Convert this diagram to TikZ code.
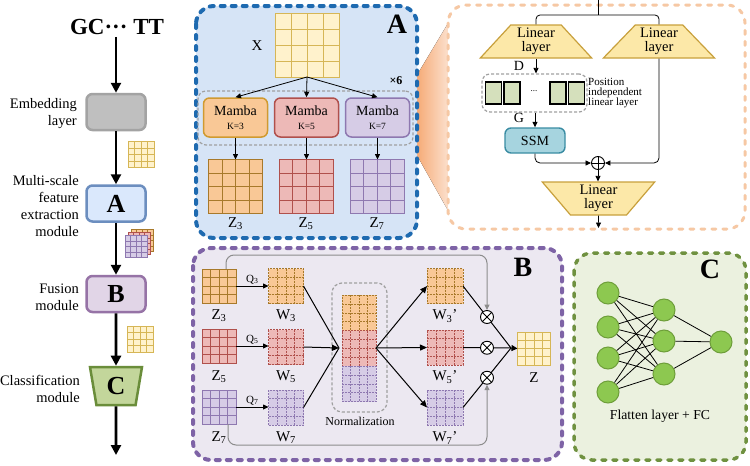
\documentclass[tikz,border=0pt]{standalone}
\usepackage{fontspec}
\setmainfont{Liberation Serif}
\usetikzlibrary{arrows.meta,shapes.geometric,calc}
\definecolor{ylwF}{HTML}{FFF2CC}\definecolor{ylwD}{HTML}{D6B656}
\definecolor{orgF}{HTML}{F9C896}\definecolor{orgD}{HTML}{A8792A}\definecolor{orgM}{HTML}{D09A30}
\definecolor{redF}{HTML}{EDB9B7}\definecolor{redD}{HTML}{B0504C}
\definecolor{purF}{HTML}{D6CCE6}\definecolor{purD}{HTML}{8E78B0}
\definecolor{panA}{HTML}{D6E4F6}\definecolor{panAD}{HTML}{1E6AB0}
\definecolor{panB}{HTML}{ECE8F1}\definecolor{panBD}{HTML}{7E63A6}
\definecolor{panC}{HTML}{EBF1DF}\definecolor{panCD}{HTML}{6F9140}
\definecolor{panR}{HTML}{F6C8A4}
\definecolor{fanL}{HTML}{F5A66F}\definecolor{fanR}{HTML}{FCE3D2}
\definecolor{embF}{HTML}{BFBFBF}\definecolor{embD}{HTML}{A3A3A3}
\definecolor{boxAF}{HTML}{DAE8FC}\definecolor{boxAD}{HTML}{6C8EBF}
\definecolor{boxBF}{HTML}{E1D5E7}\definecolor{boxBD}{HTML}{9673A6}
\definecolor{boxCF}{HTML}{C3D69B}\definecolor{boxCD}{HTML}{6A8D3A}
\definecolor{linF}{HTML}{FCE8A8}\definecolor{linD}{HTML}{C8A03C}
\definecolor{ssmF}{HTML}{A6D4DF}\definecolor{ssmD}{HTML}{3A8CA3}
\definecolor{pilF}{HTML}{D5E0BC}
\definecolor{nnF}{HTML}{8DC850}\definecolor{nnD}{HTML}{6E9E3A}
\definecolor{grayD}{HTML}{A0A0A0}
\definecolor{bypass}{HTML}{8C8C8C}
\newcommand{\mkgrid}[7]{%
 \node[draw=#6, fill=#5, line width=1pt, minimum width=#3, minimum height=#4, inner sep=0pt, outer sep=0pt, #7] (#1) at (#2) {};
 \foreach \gi in {1,2,3}{%
 \draw[draw=#6, line width=0.8pt, #7] ($(#1.north west)!\gi/4!(#1.north east)$) -- ($(#1.south west)!\gi/4!(#1.south east)$);
 \draw[draw=#6, line width=0.8pt, #7] ($(#1.north west)!\gi/4!(#1.south west)$) -- ($(#1.north east)!\gi/4!(#1.south east)$);
 }}
\tikzset{
 bigarrow/.style={line width=2.8pt, -{Triangle[width=10pt,length=10pt]}},
 thinarrow/.style={line width=0.8pt, -{Triangle[width=5pt,length=5.5pt]}},
 lbl/.style={font=\fontsize{14.5}{17}\selectfont, align=right, anchor=east, inner sep=0pt},
 modbox/.style={rounded corners=6pt, line width=2.5pt, minimum width=59pt, minimum height=36pt, inner sep=0pt, font=\fontsize{26}{26}\selectfont\bfseries},
 panel/.style={rounded corners=18pt, line width=4pt, dash pattern=on 4pt off 7pt, line cap=round},
 grpbox/.style={draw=grayD, line width=1.2pt, dash pattern=on 3pt off 2pt, rounded corners=8pt, inner sep=0pt},
 mamba/.style={rounded corners=6pt, line width=1.5pt, minimum width=64pt, minimum height=39pt, inner sep=0pt, align=center, font=\fontsize{14}{15}\selectfont},
 linlayer/.style={trapezium, trapezium stretches=true, minimum width=112pt, minimum height=33pt, fill=linF, draw=linD, line width=1.2pt, inner sep=0pt, align=center, font=\fontsize{14.5}{14.5}\selectfont},
 wl/.style={font=\fontsize{15}{15}\selectfont, inner sep=1pt},
 ql/.style={font=\fontsize{11}{11}\selectfont, inner sep=1.5pt, above},
 plet/.style={font=\fontsize{28}{28}\selectfont\bfseries},
 nn/.style={circle, fill=nnF, draw=nnD, line width=1pt, minimum size=22pt, inner sep=0pt},
 cross/.style={circle, draw=black, fill=white, line width=0.9pt, minimum size=13pt, inner sep=0pt},
 wdash/.style={dash pattern=on 2pt off 1pt},
 bline/.style={line width=1pt},
 byp/.style={draw=bypass, line width=1pt, -{Triangle[width=5pt,length=5.5pt]}, rounded corners=8pt},
 pil/.style={draw=black, fill=pilF, line width=1.2pt, minimum width=16pt, minimum height=22pt, inner sep=0pt},
}
\begin{document}
\begin{tikzpicture}[x=1pt,y=-1pt]
\useasboundingbox (0,0) rectangle (750,466);
\fill[white] (0,0) rectangle (750,466);

% ---------- left column ----------
\node[font=\fontsize{23}{23}\selectfont\bfseries, inner sep=2pt] (gc) at (117,27) {GC··· TT};
\node[modbox, fill=embF, draw=embD] (emb) at (116,112) {};
\node[modbox, fill=boxAF, draw=boxAD] (ba) at (116,203.5) {A};
\node[modbox, fill=boxBF, draw=boxBD] (bb) at (116,294) {B};
\node[trapezium, trapezium left angle=100, trapezium right angle=100, trapezium stretches=true,
 minimum width=52pt, minimum height=38pt, fill=boxCF, draw=boxCD, line width=2.5pt, inner sep=0pt,
 font=\fontsize{26}{26}\selectfont\bfseries] (bc) at (116,386) {C};
\coordinate (fin) at (116,455);
\draw[bigarrow] (emb.north |- gc.south) -- (emb.north);
\draw[bigarrow] (emb.south) -- (ba.north);
\draw[bigarrow] (ba.south) -- (bb.north);
\draw[bigarrow] (bb.south) -- (bc.north);
\draw[bigarrow] (bc.south) -- (fin);
\node[lbl] (l1) at (77,114) {Embedding\\layer};
\node[lbl] (l2) at (79,206) {Multi-scale\\feature\\extraction\\module};
\node[lbl] (l3) at (79,297) {Fusion\\module};
\node[lbl] (l4) at (80,389) {Classification\\module};
\mkgrid{ic1}{141,154.5}{26pt}{26pt}{ylwF}{ylwD}{}
\mkgrid{ic2a}{142,240.5}{22pt}{22pt}{orgF}{orgD}{}
\mkgrid{ic2b}{139,243.5}{22pt}{22pt}{redF}{redD}{}
\mkgrid{ic2c}{136,246.5}{22pt}{22pt}{purF}{purD}{}
\mkgrid{ic3}{140,339}{26pt}{26pt}{ylwF}{ylwD}{}

% ---------- fan + panels ----------
\fill[left color=fanL, right color=fanR] (414,80) -- (450,20) -- (450,214) -- (414,150) -- cycle;
\draw[panel, draw=panAD, fill=panA] (196,6) rectangle (417,238);
\draw[panel, draw=panR, fill=white, line width=3pt] (448,5) rectangle (745,229);
\draw[panel, draw=panBD, fill=panB] (193,248) rectangle (562,460);
\draw[panel, draw=panCD, fill=panC, line width=3.5pt] (574,253) rectangle (746,460);

% ---------- panel A ----------
\node[plet] (pa) at (397,24) {A};
\mkgrid{X}{307,45}{64pt}{64pt}{ylwF}{ylwD}{}
\node[wl] (xl) at (257,46) {X};
\node[grpbox, minimum width=215pt, minimum height=54pt] (grp) at (305.5,118) {};
\node[font=\fontsize{12}{12}\selectfont\bfseries] (x6) at (396,81) {×6};
\node[mamba, fill=orgF, draw=orgM] (m3) at (235.5,117.5) {Mamba\\[-1pt]{\fontsize{9.5}{10}\selectfont K=3}};
\node[mamba, fill=redF, draw=redD] (m5) at (306.5,117.5) {Mamba\\[-1pt]{\fontsize{9.5}{10}\selectfont K=5}};
\node[mamba, fill=purF, draw=purD] (m7) at (377.5,117.5) {Mamba\\[-1pt]{\fontsize{9.5}{10}\selectfont K=7}};
\draw[thinarrow] (X.south) -- (m3.north);
\draw[thinarrow] (X.south) -- (m5.north);
\draw[thinarrow] (X.south) -- (m7.north);
\mkgrid{Z3a}{235.5,186.5}{54pt}{54pt}{orgF}{orgD}{}
\mkgrid{Z5a}{306,186.5}{54pt}{54pt}{redF}{redD}{}
\mkgrid{Z7a}{377,186.5}{54pt}{54pt}{purF}{purD}{}
\draw[thinarrow] (m3.south) -- (Z3a.north);
\draw[thinarrow] (m5.south) -- (m5.south |- Z5a.north);
\draw[thinarrow] (m7.south) -- (m7.south |- Z7a.north);
\node[wl] (za3) at (235.5,224) {Z\textsubscript{3}};
\node[wl] (za5) at (306,224) {Z\textsubscript{5}};
\node[wl] (za7) at (377,224) {Z\textsubscript{7}};

% ---------- right panel (Mamba block) ----------
\node[linlayer, trapezium left angle=50, trapezium right angle=50] (lin1) at (536,41.5) {Linear\\layer};
\node[linlayer, trapezium left angle=47, trapezium right angle=47] (lin2) at (659,41.5) {Linear\\layer};
\node[linlayer, minimum width=113pt, trapezium left angle=125, trapezium right angle=125] (lin3) at (598.5,198.5) {Linear\\layer};
\coordinate (topin) at (598,0);
\coordinate (mid15) at (598,15);
\draw[line width=0.8pt] (topin) -- (mid15);
\draw[line width=0.8pt, rounded corners=4pt] (lin1.north) |- (mid15) -| (lin2.north);
\node[grpbox, minimum width=105pt, minimum height=38pt] (plr) at (534.5,93) {};
\node[pil] (g1) at (493.5,93) {};
\node[pil] (g2) at (512,93) {};
\node[font=\fontsize{9}{9}\selectfont] (gd) at (534,91) {...};
\node[pil] (g3) at (558,93) {};
\node[pil] (g4) at (576.5,93) {};
\node[anchor=west, align=left, inner sep=0pt, font=\fontsize{11}{10}\selectfont] (pilt) at (588,93) {Position\\independent\\linear layer};
\node[font=\fontsize{14}{14}\selectfont] (dl) at (519,66) {D};
\node[font=\fontsize{14}{14}\selectfont] (gl) at (519,118) {G};
\node[rounded corners=6pt, fill=ssmF, draw=ssmD, line width=1.4pt, minimum width=60pt, minimum height=25pt, inner sep=0pt, font=\fontsize{14}{14}\selectfont] (ssm) at (535,140.5) {SSM};
\draw[thinarrow] (lin1.south) -- (lin1.south |- plr.north);
\draw[thinarrow] (plr.south -| ssm.north) -- (ssm.north);
\node[cross] (op) at (598,163) {};
\draw[line width=0.8pt] (op.north) -- (op.south) (op.west) -- (op.east);
\draw[thinarrow, rounded corners=5pt] (ssm.south) |- (op.west);
\draw[thinarrow, rounded corners=5pt] (lin2.south) |- (op.east);
\draw[thinarrow] (op.south) -- (op.south |- lin3.north);
\coordinate (rout) at (598.5,228);
\draw[thinarrow] (lin3.south) -- (rout);

% ---------- panel B ----------
\node[plet] (pb) at (523,267) {B};
\mkgrid{Z3}{219,286}{34pt}{34pt}{orgF}{orgD}{}
\mkgrid{Z5}{219,346}{34pt}{34pt}{redF}{redD}{}
\mkgrid{Z7}{219,407}{34pt}{34pt}{purF}{purD}{}
\node[wl] (lz3) at (219,316) {Z\textsubscript{3}};
\node[wl] (lz5) at (219,377) {Z\textsubscript{5}};
\node[wl] (lz7) at (219,438) {Z\textsubscript{7}};
\mkgrid{W3}{286,286}{35pt}{35pt}{orgF}{orgD}{wdash}
\mkgrid{W5}{286,347}{35pt}{35pt}{redF}{redD}{wdash}
\mkgrid{W7}{286,407.5}{35pt}{35pt}{purF}{purD}{wdash}
\node[wl] (lw3) at (286,316) {W\textsubscript{3}};
\node[wl] (lw5) at (286,377) {W\textsubscript{5}};
\node[wl] (lw7) at (286,438) {W\textsubscript{7}};
\draw[thinarrow] (Z3.east) -- node[ql] {Q\textsubscript{3}} (W3.west);
\draw[thinarrow] (Z5.east) -- node[ql] {Q\textsubscript{5}} (W5.west |- Z5.east);
\draw[thinarrow] (Z7.east) -- node[ql] {Q\textsubscript{7}} (W7.west |- Z7.east);
\node[grpbox, minimum width=55pt, minimum height=129pt, rounded corners=10pt] (nb) at (359.5,347.5) {};
\mkgrid{C3}{359,313}{34pt}{35.5pt}{orgF}{orgD}{wdash}
\mkgrid{C5}{359,348.5}{34pt}{35.5pt}{redF}{redD}{wdash}
\mkgrid{C7}{359,384}{34pt}{35.5pt}{purF}{purD}{wdash}
\node[font=\fontsize{12}{12}\selectfont] (nl) at (360,421) {Normalization};
\coordinate (M) at (339,348);
\draw[bline] (W3.east) -- (M);
\draw[bline] (W7.east) -- (M);
\draw[bline, -{Triangle[width=6pt,length=7pt]}] (W5.east) -- (M);
\coordinate (S) at (376,348);
\mkgrid{W3p}{445,286}{36pt}{35pt}{orgF}{orgD}{wdash}
\mkgrid{W5p}{445,347.5}{36pt}{35pt}{redF}{redD}{wdash}
\mkgrid{W7p}{445,407.5}{36pt}{35pt}{purF}{purD}{wdash}
\node[wl] (lw3p) at (445,316) {W\textsubscript{3}'};
\node[wl] (lw5p) at (445,377) {W\textsubscript{5}'};
\node[wl] (lw7p) at (445,438) {W\textsubscript{7}'};
\draw[bline, -{Triangle[width=6pt,length=7pt]}] (S) -- (W3p.west);
\draw[bline, -{Triangle[width=6pt,length=7pt]}] (S) -- (W5p.west);
\draw[bline, -{Triangle[width=6pt,length=7pt]}] (S) -- (W7p.west);
\coordinate (ZM) at (511,348);
\draw[bline] (W3p.east) -- (ZM);
\draw[bline] (W5p.east) -- (ZM);
\draw[bline] (W7p.east) -- (ZM);
\node[cross] (ot3) at ($(W3p.east)!0.5!(ZM)$) {};
\node[cross] (ot5) at ($(W5p.east)!0.5!(ZM)$) {};
\node[cross] (ot7) at ($(W7p.east)!0.5!(ZM)$) {};
\foreach \o in {ot3,ot5,ot7}{\draw[line width=0.8pt] (\o.north west) -- (\o.south east) (\o.north east) -- (\o.south west);}
\mkgrid{Zf}{534,348.5}{33pt}{33pt}{ylwF}{ylwD}{}
\draw[bline, -{Triangle[width=6pt,length=6pt]}] (ZM) -- (Zf.west);
\node[wl] (lzf) at (534,378) {Z};
\coordinate (tl) at (0,255);
\coordinate (bl) at (0,445);
\draw[byp] ($(Z3.north)+(7,0)$) |- (ot3.north |- tl) -- (ot3.north);
\draw[byp] ($(Z7.south)+(9,0)$) |- (ot7.south |- bl) -- (ot7.south);

% ---------- panel C ----------
\node[plet] (pc) at (710,269) {C};
\node[nn] (i1) at (608,293) {};
\node[nn] (i2) at (608,327) {};
\node[nn] (i3) at (608,358) {};
\node[nn] (i4) at (608,392) {};
\node[nn] (h1) at (664,310) {};
\node[nn] (h2) at (664,341) {};
\node[nn] (h3) at (664,374) {};
\node[nn] (o1) at (721,342) {};
\foreach \a in {1,2,3,4}{\foreach \b in {1,2,3}{\draw[line width=0.8pt] (i\a) -- (h\b);}}
\foreach \b in {1,2,3}{\draw[line width=0.8pt] (h\b) -- (o1);}
\node[font=\fontsize{13.7}{14}\selectfont] (fl) at (660,416) {Flatten layer + FC};
\end{tikzpicture}
\end{document}
